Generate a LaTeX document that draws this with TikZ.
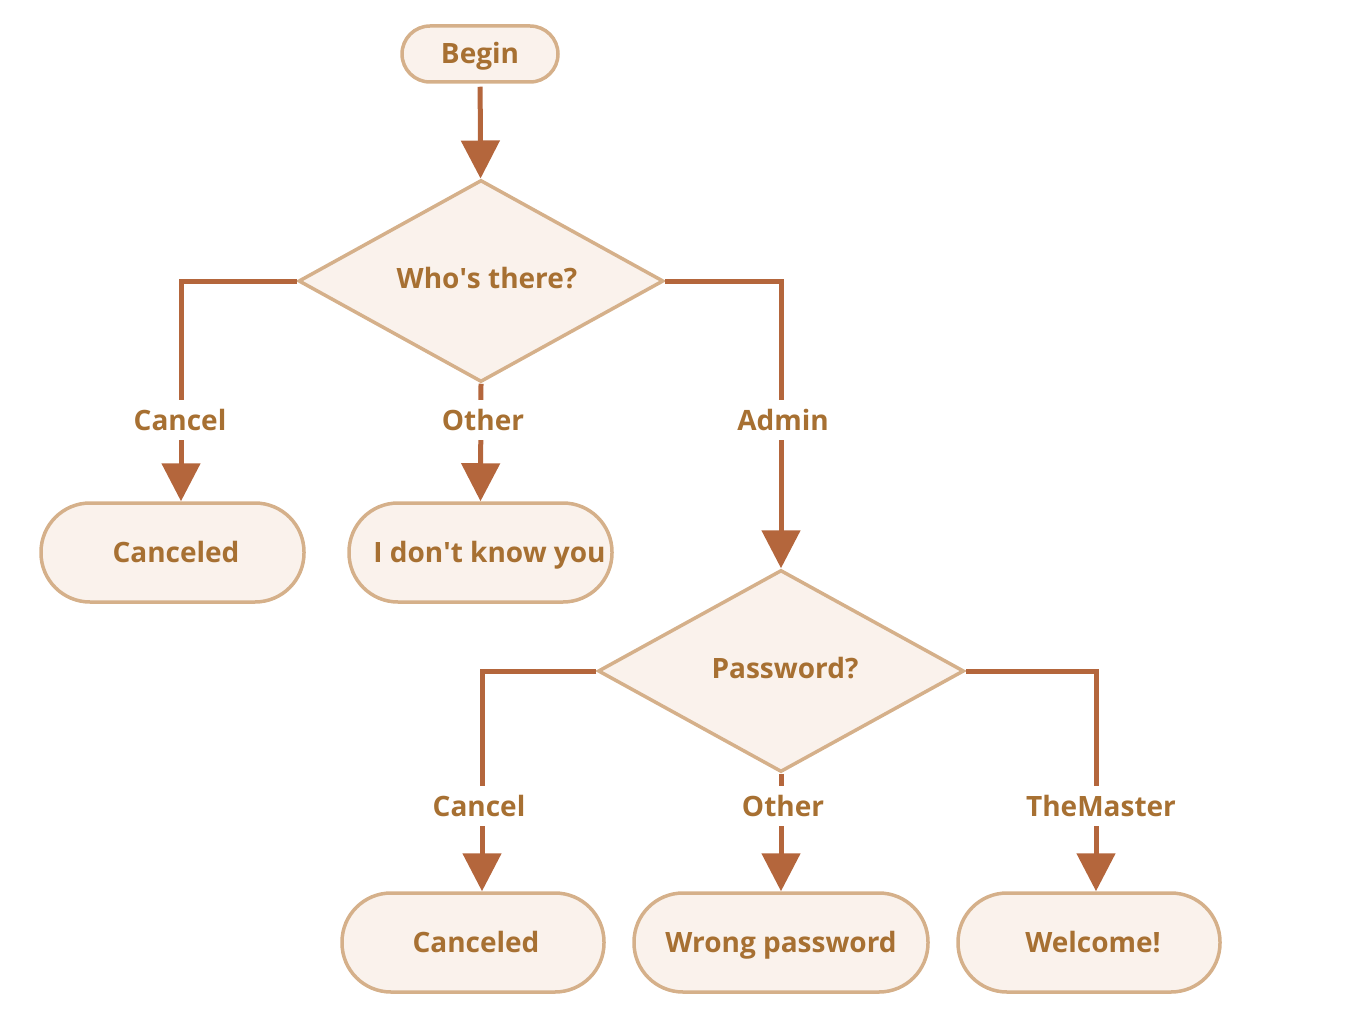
\documentclass[tikz,border=0pt]{standalone}
\usepackage{fontspec}
\setmainfont{Open Sans}
\usetikzlibrary{shapes.geometric,arrows.meta}
\definecolor{txt}{HTML}{A77032}
\definecolor{arr}{HTML}{B4663C}
\definecolor{bord}{HTML}{D5B08A}
\definecolor{fil}{HTML}{FAF2EC}
\newcommand{\dtext}[1]{\raisebox{-7pt}[0pt][0pt]{\makebox[0pt]{#1}}}
\tikzset{
  x=1pt, y=-1pt,
  every node/.style={font=\fontsize{28}{32}\selectfont\bfseries, text=txt},
  term/.style={draw=bord, fill=fil, line width=3.5pt, rectangle, rounded corners=49pt,
    minimum width=263pt, minimum height=99pt, inner sep=0pt, text height=20pt, text depth=0pt},
  decision/.style={draw=bord, fill=fil, line width=3.5pt, diamond,
    minimum width=365pt, minimum height=202pt, inner sep=0pt},
  flow/.style={draw=arr, line width=5pt, -{Triangle[width=38pt,length=38pt]}},
  lbl/.style={fill=white, text height=20pt, text depth=0pt, inner ysep=10pt, inner xsep=2pt}
}
\begin{document}
\begin{tikzpicture}
\useasboundingbox (0,0) rectangle (1348,1024);
\node[term, minimum width=156pt, minimum height=56pt, rounded corners=28pt] (begin) at (480,54) {Begin};
\node[decision] (q1) at (481,281) {\dtext{\hspace{12pt}Who\textquotesingle s there?}};
\node[term] (c1) at (172.5,552.5) {\hspace{7pt}Canceled\rule[-3pt]{0pt}{0pt}};
\node[term] (idk) at (480.5,552.5) {\hspace{18pt}I don\textquotesingle t know you\rule[-4pt]{0pt}{0pt}};
\node[decision, minimum width=366pt] (q2) at (781,671) {\dtext{\hspace{8pt}Password?}};
\node[term, minimum width=262pt] (c2) at (473,942.5) {\hspace{6pt}Canceled\rule[-3pt]{0pt}{0pt}};
\node[term, minimum width=294pt] (wp) at (781,942.5) {Wrong password\rule[-3pt]{0pt}{0pt}};
\node[term, minimum width=262pt] (wel) at (1089,942.5) {\hspace{8pt}Welcome!\rule[-3pt]{0pt}{0pt}};

\draw[flow, shorten <=3pt] (begin) -- (q1);
\draw[flow] (q1.west) -| ([xshift=8.5pt]c1.north);
\draw[flow] (q1.south) -- (idk.north);
\draw[flow] (q1.east) -| (q2.north);
\draw[flow] (q2.west) -| ([xshift=9pt]c2.north);
\draw[flow] (q2.south) -- (wp.north);
\draw[flow] (q2.east) -| ([xshift=7pt]wel.north);

\node[lbl] (l1) at (180,420) {Cancel};
\node[lbl] (l2) at (483,420) {Other};
\node[lbl] (l3) at (783,420) {Admin};
\node[lbl] (l4) at (479,806) {Cancel};
\node[lbl] (l5) at (783,806) {Other};
\node[lbl] (l6) at (1101,806) {TheMaster};
\end{tikzpicture}
\end{document}
